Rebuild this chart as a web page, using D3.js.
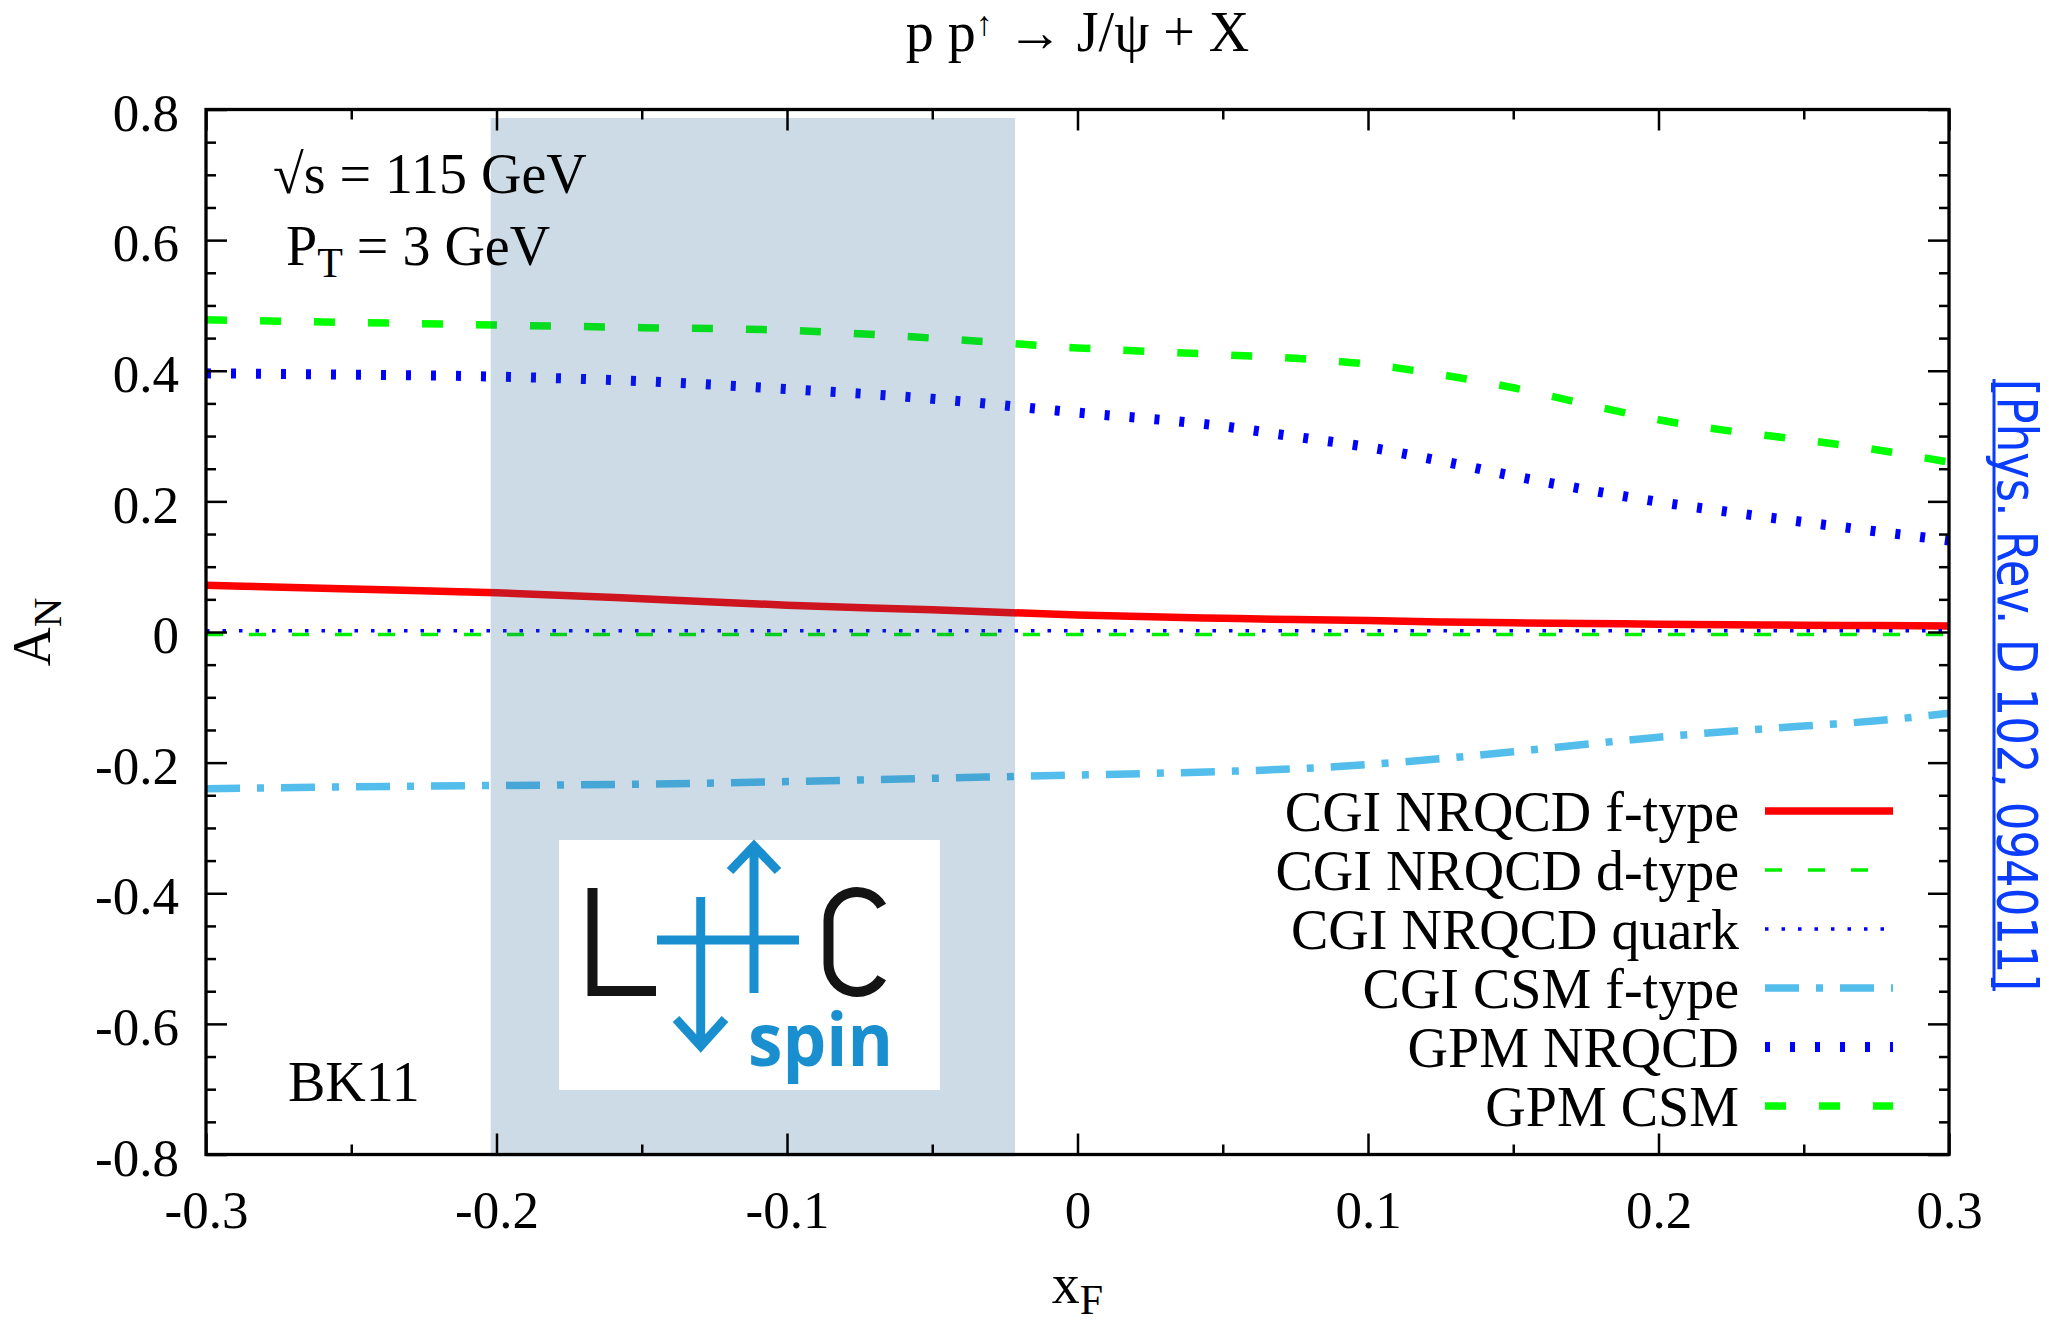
<!DOCTYPE html>
<html>
<head>
<meta charset="utf-8">
<script src="https://cdn.jsdelivr.net/npm/d3@7"></script>
<style>
  body { margin: 0; background: #fff; }
  svg text { font-family: "Liberation Serif", "Times New Roman", serif; }
</style>
</head>
<body>
<svg id="chart" width="2049" height="1326"></svg>
<script>
// x_F sample points and the A_N curves
const xF            = [-0.3, -0.25, -0.2, -0.15, -0.1, -0.05, 0, 0.05, 0.075, 0.1, 0.125, 0.15, 0.175, 0.2, 0.225, 0.25, 0.275, 0.3];
const cgiNrqcdF     = [0.0715, 0.066, 0.060, 0.051, 0.041, 0.034, 0.026, 0.021, 0.019, 0.0175, 0.0155, 0.014, 0.013, 0.012, 0.011, 0.0105, 0.0098, 0.009];
const cgiNrqcdD     = [-0.004, -0.004, -0.004, -0.004, -0.004, -0.004, -0.004, -0.004, -0.004, -0.004, -0.004, -0.004, -0.004, -0.004, -0.004, -0.004, -0.004, -0.004];
const cgiNrqcdQuark = [0.002, 0.002, 0.002, 0.002, 0.002, 0.002, 0.002, 0.002, 0.002, 0.002, 0.002, 0.002, 0.002, 0.002, 0.002, 0.002, 0.002, 0.002];
const cgiCsmF       = [-0.240, -0.237, -0.235, -0.233, -0.229, -0.224, -0.219, -0.2135, -0.2095, -0.203, -0.194, -0.1835, -0.172, -0.161, -0.152, -0.144, -0.136, -0.1245];
const gpmNrqcd      = [0.396, 0.394, 0.391, 0.384, 0.372, 0.357, 0.336, 0.315, 0.299, 0.283, 0.262, 0.239, 0.218, 0.1993, 0.1833, 0.1683, 0.154, 0.140];
const gpmCsm        = [0.478, 0.474, 0.470, 0.466, 0.462, 0.450, 0.435, 0.4245, 0.419, 0.410, 0.394, 0.374, 0.349, 0.325, 0.3076, 0.294, 0.279, 0.260];

const legendNames = ["CGI NRQCD f-type", "CGI NRQCD d-type", "CGI NRQCD quark", "CGI CSM f-type", "GPM NRQCD", "GPM CSM"];
const xMajor = [-0.3, -0.2, -0.1, 0, 0.1, 0.2, 0.3];
const xMinor = [-0.25, -0.15, -0.05, 0.05, 0.15, 0.25];
const yMajor = [-0.8, -0.6, -0.4, -0.2, 0, 0.2, 0.4, 0.6, 0.8];
const yMinor = [-0.75, -0.7, -0.65, -0.55, -0.5, -0.45, -0.35, -0.3, -0.25, -0.15, -0.1, -0.05,
                0.05, 0.1, 0.15, 0.25, 0.3, 0.35, 0.45, 0.5, 0.55, 0.65, 0.7, 0.75];
const bandX = [-0.202, -0.0215];
const bandY = [-0.8, 0.787];

// line styles, in legend order
const styles = [
  { values: cgiNrqcdF,     color: "#ff0000", width: 7.5, dash: null },
  { values: cgiNrqcdD,     color: "#00ee00", width: 3.5, dash: "17,26" },
  { values: cgiNrqcdQuark, color: "#0000ff", width: 3.5, dash: "3.5,13" },
  { values: cgiCsmF,       color: "#53bdec", width: 7.5, dash: "34,17,7,17" },
  { values: gpmNrqcd,      color: "#0000ff", width: 10,  dash: "5,20" },
  { values: gpmCsm,        color: "#00ff00", width: 7.5, dash: "21,33" }
];

const svg = d3.select("#chart");
svg.append("rect").attr("width", 2049).attr("height", 1326).attr("fill", "#fff");

const x = d3.scaleLinear().domain([-0.3, 0.3]).range([206, 1949]);
const y = d3.scaleLinear().domain([-0.8, 0.8]).range([1154.5, 109.5]);

const plotL = x(-0.3), plotR = x(0.3), plotT = y(0.8), plotB = y(-0.8);

svg.append("clipPath").attr("id", "plot")
  .append("rect")
  .attr("x", plotL).attr("y", plotT)
  .attr("width", plotR - plotL).attr("height", plotB - plotT);

// curves
const line = d3.line()
  .x((d, i) => x(xF[i]))
  .y(d => y(d))
  .curve(d3.curveMonotoneX);

const curves = svg.append("g").attr("clip-path", "url(#plot)");
styles.forEach(s => {
  curves.append("path")
    .attr("d", line(s.values))
    .attr("fill", "none")
    .attr("stroke", s.color)
    .attr("stroke-width", s.width)
    .attr("stroke-dasharray", s.dash)
    .attr("stroke-linecap", "butt");
});

// shaded x_F band (drawn over the curves, semi transparent)
svg.append("rect")
  .attr("x", x(bandX[0])).attr("y", y(bandY[1]))
  .attr("width", x(bandX[1]) - x(bandX[0]))
  .attr("height", y(bandY[0]) - y(bandY[1]) + 2)
  .attr("fill", "#1c5b8d")
  .attr("opacity", 0.22);

// LHC spin logo
const logo = svg.append("g").attr("transform", "translate(559,840)");
logo.append("rect").attr("width", 381).attr("height", 250).attr("fill", "#fff");
logo.append("path")
  .attr("d", "M33.5,48 L33.5,151 L97,151")
  .attr("fill", "none").attr("stroke", "#141414").attr("stroke-width", 10);
logo.append("path")
  .attr("d", "M322.7,66.3 A28.5,28.5 0 0 0 269.5,80.5 L269.5,123.5 A28.5,28.5 0 0 0 322.7,137.7")
  .attr("fill", "none").attr("stroke", "#141414").attr("stroke-width", 10);
const logoBlue = "#1a8fd0";
logo.append("path")
  .attr("d", "M98,100 L240,100 M141.7,57 L141.7,206 M195,6 L195,153 M117,179 L141.7,206 L166,179 M171,31 L195,6 L219,31")
  .attr("fill", "none").attr("stroke", logoBlue).attr("stroke-width", 9);
logo.append("text")
  .attr("x", 189).attr("y", 226)
  .attr("textLength", 145).attr("lengthAdjust", "spacingAndGlyphs")
  .style("font-family", "'Open Sans', 'DejaVu Sans', sans-serif")
  .style("font-weight", "bold").style("font-size", "74px")
  .attr("fill", logoBlue)
  .text("spin");

// axes: ticks on all four sides, pointing inward
const fmt = d => d === 0 ? "0" : d.toFixed(1);
function styleAxis(g) {
  g.select(".domain").remove();
  g.selectAll(".tick line").attr("stroke", "#000").attr("stroke-width", 2.5);
  g.selectAll("text").style("font-family", "'Liberation Serif', serif").style("font-size", "53px").attr("fill", "#000");
  g.attr("font-size", null).attr("font-family", null);
}

svg.append("g").attr("transform", `translate(0,${plotB})`)
  .call(d3.axisBottom(x).tickValues(xMajor).tickSize(-21).tickPadding(36).tickFormat(fmt)).call(styleAxis);
svg.append("g").attr("transform", `translate(0,${plotB})`)
  .call(d3.axisBottom(x).tickValues(xMinor).tickSize(-10).tickFormat("")).call(styleAxis);
svg.append("g").attr("transform", `translate(0,${plotT})`)
  .call(d3.axisTop(x).tickValues(xMajor).tickSize(-21).tickFormat("")).call(styleAxis);
svg.append("g").attr("transform", `translate(0,${plotT})`)
  .call(d3.axisTop(x).tickValues(xMinor).tickSize(-10).tickFormat("")).call(styleAxis);

const gl = svg.append("g").attr("transform", `translate(${plotL},0)`)
  .call(d3.axisLeft(y).tickValues(yMajor).tickSize(-21).tickPadding(27).tickFormat(fmt)).call(styleAxis);
gl.selectAll("text").attr("dy", "0.39em");
svg.append("g").attr("transform", `translate(${plotL},0)`)
  .call(d3.axisLeft(y).tickValues(yMinor).tickSize(-10).tickFormat("")).call(styleAxis);
svg.append("g").attr("transform", `translate(${plotR},0)`)
  .call(d3.axisRight(y).tickValues(yMajor).tickSize(-21).tickFormat("")).call(styleAxis);
svg.append("g").attr("transform", `translate(${plotR},0)`)
  .call(d3.axisRight(y).tickValues(yMinor).tickSize(-10).tickFormat("")).call(styleAxis);

svg.append("rect")
  .attr("x", plotL).attr("y", plotT)
  .attr("width", plotR - plotL).attr("height", plotB - plotT)
  .attr("fill", "none").attr("stroke", "#000").attr("stroke-width", 3.3);

// title
const title = svg.append("text")
  .attr("x", (plotL + plotR) / 2).attr("y", 51)
  .attr("text-anchor", "middle")
  .style("font-size", "56px");
title.append("tspan").text("p p");
title.append("tspan").attr("dy", -16).style("font-size", "34px").text("\u2191");
title.append("tspan").attr("dy", 16).text(" \u2192 J/\u03c8 + X");

// axis titles
const xl = svg.append("text")
  .attr("x", (plotL + plotR) / 2).attr("y", 1303)
  .attr("text-anchor", "middle").style("font-size", "56px");
xl.append("tspan").text("x");
xl.append("tspan").attr("dy", 11).style("font-size", "42px").text("F");

const yl = svg.append("text")
  .attr("transform", `translate(50,${y(0)}) rotate(-90)`)
  .attr("text-anchor", "middle").style("font-size", "54px");
yl.append("tspan").text("A");
yl.append("tspan").attr("dy", 11).style("font-size", "41px").text("N");

// annotations
svg.append("text").attr("x", 273).attr("y", 193).style("font-size", "56px")
  .text("\u221as = 115 GeV");
const pt = svg.append("text").attr("x", 286).attr("y", 265).style("font-size", "56px");
pt.append("tspan").text("P");
pt.append("tspan").attr("dy", 12).style("font-size", "42px").text("T");
pt.append("tspan").attr("dy", -12).text(" = 3 GeV");
svg.append("text").attr("x", 288).attr("y", 1101).style("font-size", "56px").text("BK11");

// legend
const legend = svg.append("g");
styles.forEach((s, i) => {
  const ly = 811 + i * 59;
  legend.append("text")
    .attr("x", 1739).attr("y", ly + 20)
    .attr("text-anchor", "end")
    .style("font-size", "56px")
    .text(legendNames[i]);
  legend.append("line")
    .attr("x1", 1765).attr("x2", 1893)
    .attr("y1", ly).attr("y2", ly)
    .attr("stroke", s.color)
    .attr("stroke-width", s.width)
    .attr("stroke-dasharray", s.dash);
});

// reference, vertical on the right
const refColor = "#0a3cff";
svg.append("text")
  .attr("transform", "translate(1998,379) rotate(90)")
  .attr("textLength", 612).attr("lengthAdjust", "spacingAndGlyphs")
  .style("font-family", "'DejaVu Sans Condensed', 'DejaVu Sans', sans-serif")
  .style("font-size", "56px")
  .attr("fill", refColor)
  .text("[Phys. Rev. D 102, 094011]");
svg.append("line")
  .attr("x1", 1994).attr("x2", 1994).attr("y1", 379).attr("y2", 991)
  .attr("stroke", refColor).attr("stroke-width", 3);
</script>
</body>
</html>
